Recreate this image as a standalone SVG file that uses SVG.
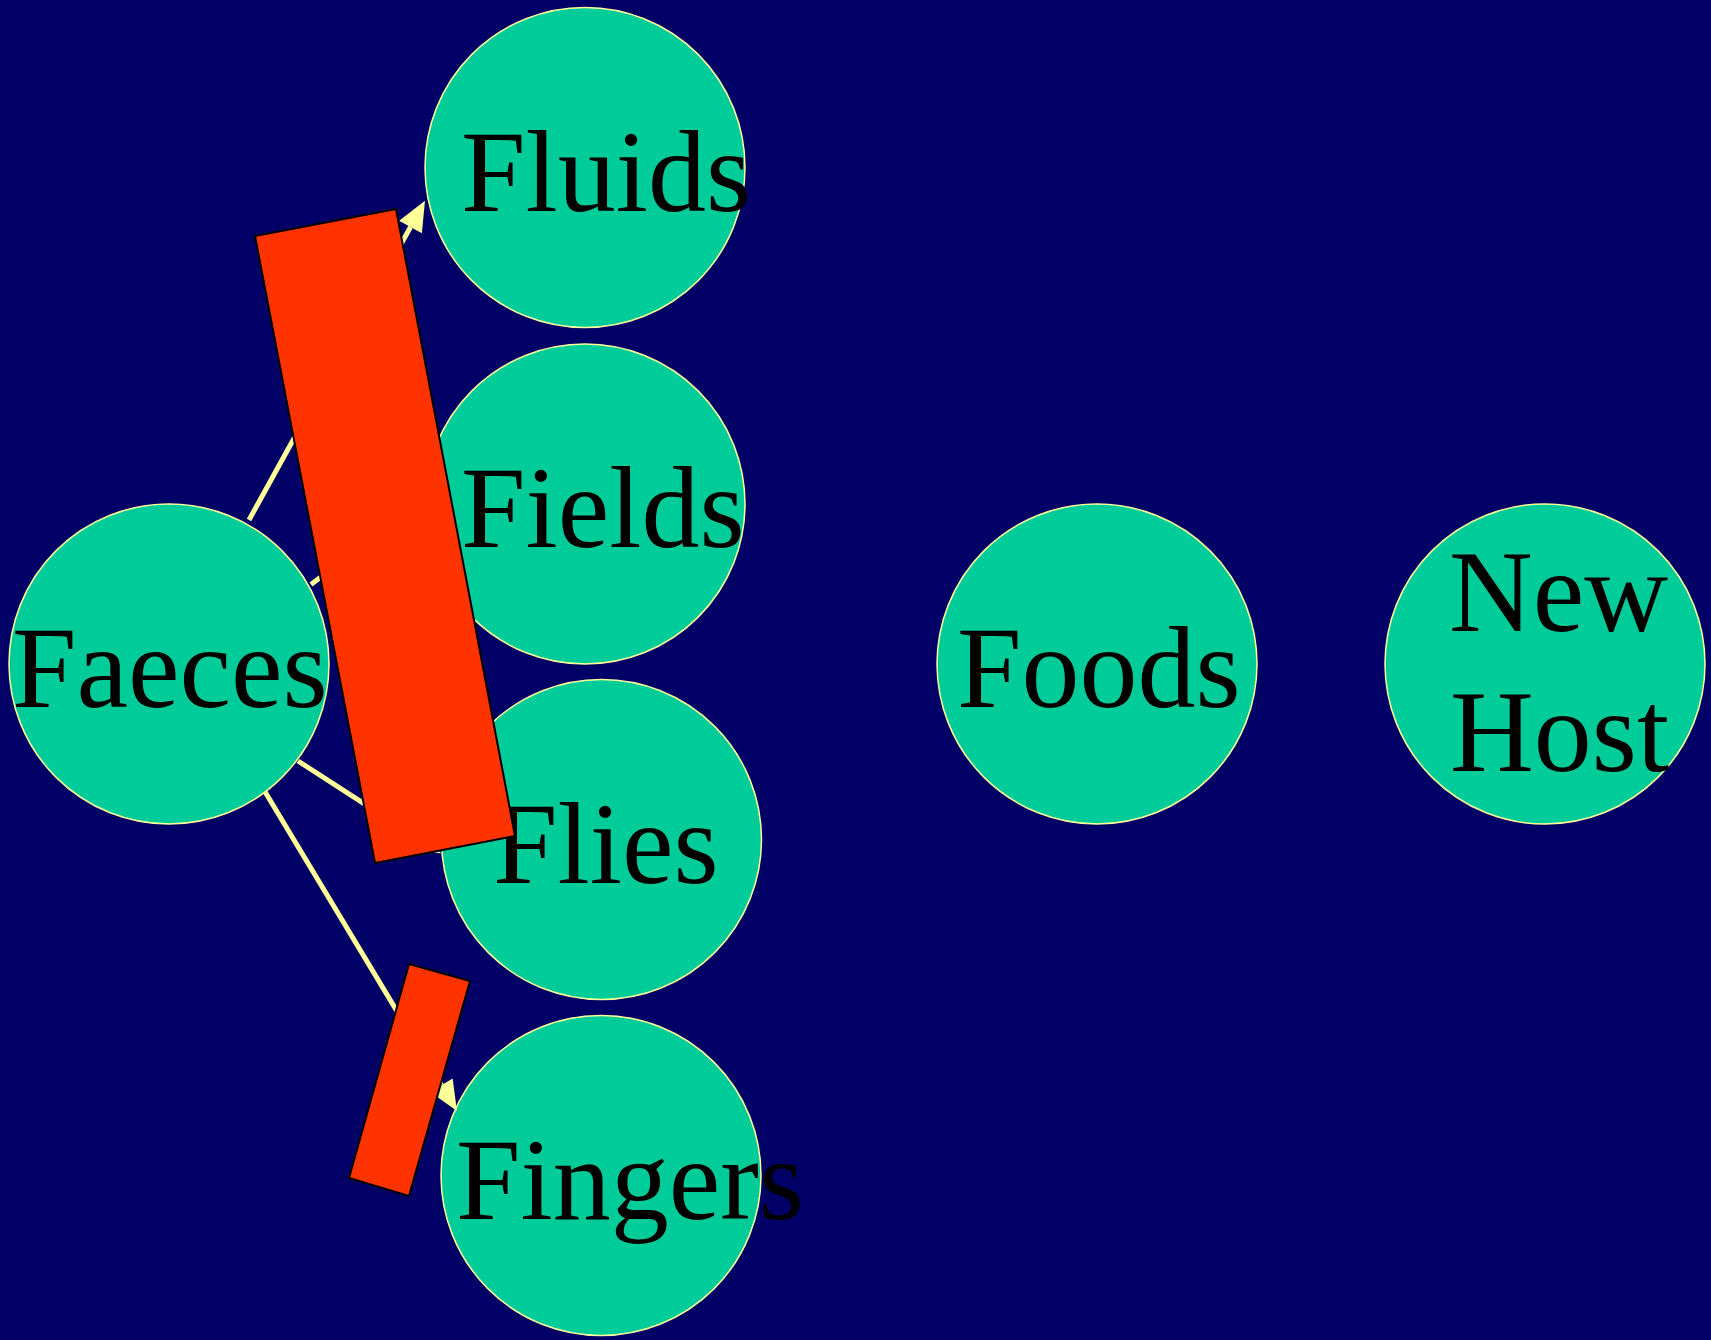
<svg xmlns="http://www.w3.org/2000/svg" width="1711" height="1340" viewBox="0 0 1711 1340">
<defs>
<style>
.node circle{fill:#00CC99;stroke:#FFFF99;stroke-width:1.5}
.node text{font-family:"Liberation Serif","Times New Roman",serif;font-size:116px;fill:#000000}
.conn line{stroke:#FFFF99;stroke-width:5;fill:none}
.block{fill:#FF3300;stroke:#000000;stroke-width:2}
</style>
<marker id="ah" markerUnits="strokeWidth" markerWidth="6" markerHeight="5.2" refX="0" refY="2.6" orient="auto" overflow="visible">
<path d="M0,0 L6,2.6 L0,5.2 Z" fill="#FFFF99"/>
</marker>
</defs>
<rect x="0" y="0" width="1711" height="1340" fill="#000066"/>
<g id="node-fluids" class="node"><circle cx="585" cy="167.5" r="160"/><text x="461" y="211">Fluids</text></g>
<g id="node-fields" class="node"><circle cx="585" cy="504" r="160"/><text x="461" y="547">Fields</text></g>
<g id="node-faeces" class="node"><circle cx="169" cy="664" r="160"/><text x="12" y="707">Faeces</text></g>
<g id="node-flies" class="node"><circle cx="601.5" cy="839.5" r="160"/><text x="493" y="883">Flies</text></g>
<g id="node-fingers" class="node"><circle cx="601" cy="1175.5" r="160"/><text x="456" y="1219">Fingers</text></g>
<g id="node-foods" class="node"><circle cx="1097" cy="664" r="160"/><text x="957" y="707">Foods</text></g>
<g id="node-newhost" class="node"><circle cx="1545" cy="664" r="160"/><text x="1449" y="631">New</text><text x="1450" y="771">Host</text></g>
<g id="connectors" class="conn">
<line x1="249" y1="520" x2="410.5" y2="227" marker-end="url(#ah)"/>
<line x1="311" y1="584.5" x2="402.2" y2="514.8" marker-end="url(#ah)"/>
<line x1="298" y1="761" x2="415.8" y2="837.2" marker-end="url(#ah)"/>
<line x1="265" y1="791.7" x2="441.5" y2="1085.3" marker-end="url(#ah)"/>
</g>
<g id="blocks">
<polygon class="block" points="255,236 396,209 515,836 375,863"/>
<polygon class="block" points="409,964 470,981 409,1196 349,1178"/>
</g>
</svg>
